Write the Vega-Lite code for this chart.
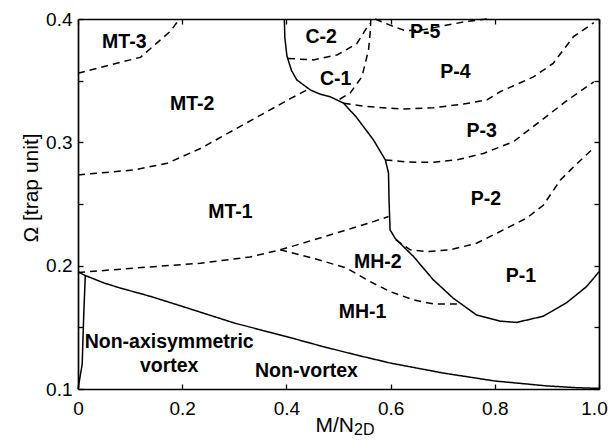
{
  "$schema": "https://vega.github.io/schema/vega-lite/v6.json",
  "width": 521,
  "height": 370,
  "autosize": "none",
  "padding": {"left": 78, "top": 19, "right": 11, "bottom": 51},
  "background": "white",
  "config": {
    "view": {"stroke": null},
    "axis": {
      "domainColor": "black", "domainWidth": 1.7,
      "tickColor": "black", "tickWidth": 1.3, "tickSize": -5,
      "labelColor": "black", "labelFont": "Liberation Sans", "labelFontSize": 19,
      "labelFlush": false, "labelOverlap": false, "grid": false,
      "titleColor": "black", "titleFont": "Liberation Sans", "titleFontWeight": "normal"
    }
  },
  "datasets": {
    "lines": [
      {"id":"S1","s":"solid","i":0,"x":0,"y":0.195},
      {"id":"S1","s":"solid","i":1,"x":0.014,"y":0.192},
      {"id":"S1","s":"solid","i":2,"x":0.05,"y":0.186},
      {"id":"S1","s":"solid","i":3,"x":0.08,"y":0.182},
      {"id":"S1","s":"solid","i":4,"x":0.14,"y":0.175},
      {"id":"S1","s":"solid","i":5,"x":0.2,"y":0.167},
      {"id":"S1","s":"solid","i":6,"x":0.3,"y":0.1535},
      {"id":"S1","s":"solid","i":7,"x":0.4,"y":0.1425},
      {"id":"S1","s":"solid","i":8,"x":0.465,"y":0.135},
      {"id":"S1","s":"solid","i":9,"x":0.53,"y":0.128},
      {"id":"S1","s":"solid","i":10,"x":0.6,"y":0.121},
      {"id":"S1","s":"solid","i":11,"x":0.7,"y":0.113},
      {"id":"S1","s":"solid","i":12,"x":0.8,"y":0.1065},
      {"id":"S1","s":"solid","i":13,"x":0.9,"y":0.1025},
      {"id":"S1","s":"solid","i":14,"x":0.96,"y":0.101},
      {"id":"S1","s":"solid","i":15,"x":1.0,"y":0.1005},
      {"id":"S2","s":"solid","i":0,"x":0,"y":0.1},
      {"id":"S2","s":"solid","i":1,"x":0.008,"y":0.12},
      {"id":"S2","s":"solid","i":2,"x":0.011,"y":0.16},
      {"id":"S2","s":"solid","i":3,"x":0.014,"y":0.192},
      {"id":"S3","s":"solid","i":0,"x":0.396,"y":0.4},
      {"id":"S3","s":"solid","i":1,"x":0.397,"y":0.385},
      {"id":"S3","s":"solid","i":2,"x":0.401,"y":0.37},
      {"id":"S3","s":"solid","i":3,"x":0.41,"y":0.358},
      {"id":"S3","s":"solid","i":4,"x":0.42,"y":0.3506},
      {"id":"S3","s":"solid","i":5,"x":0.446,"y":0.3425},
      {"id":"S3","s":"solid","i":6,"x":0.465,"y":0.339},
      {"id":"S3","s":"solid","i":7,"x":0.484,"y":0.337},
      {"id":"S3","s":"solid","i":8,"x":0.51,"y":0.3317},
      {"id":"S3","s":"solid","i":9,"x":0.535,"y":0.32},
      {"id":"S3","s":"solid","i":10,"x":0.567,"y":0.302},
      {"id":"S3","s":"solid","i":11,"x":0.59,"y":0.2857},
      {"id":"S3","s":"solid","i":12,"x":0.596,"y":0.275},
      {"id":"S3","s":"solid","i":13,"x":0.597,"y":0.253},
      {"id":"S3","s":"solid","i":14,"x":0.599,"y":0.229},
      {"id":"S3","s":"solid","i":15,"x":0.609,"y":0.222},
      {"id":"S3","s":"solid","i":16,"x":0.644,"y":0.2074},
      {"id":"S3","s":"solid","i":17,"x":0.682,"y":0.1885},
      {"id":"S3","s":"solid","i":18,"x":0.72,"y":0.1737},
      {"id":"S3","s":"solid","i":19,"x":0.765,"y":0.16},
      {"id":"S3","s":"solid","i":20,"x":0.81,"y":0.155},
      {"id":"S3","s":"solid","i":21,"x":0.842,"y":0.154},
      {"id":"S3","s":"solid","i":22,"x":0.893,"y":0.159},
      {"id":"S3","s":"solid","i":23,"x":0.938,"y":0.17},
      {"id":"S3","s":"solid","i":24,"x":0.976,"y":0.183},
      {"id":"S3","s":"solid","i":25,"x":1.0,"y":0.195},
      {"id":"D1","s":"dashed","i":0,"x":0,"y":0.356},
      {"id":"D1","s":"dashed","i":1,"x":0.06,"y":0.3625},
      {"id":"D1","s":"dashed","i":2,"x":0.12,"y":0.369},
      {"id":"D1","s":"dashed","i":3,"x":0.15,"y":0.38},
      {"id":"D1","s":"dashed","i":4,"x":0.177,"y":0.39},
      {"id":"D1","s":"dashed","i":5,"x":0.195,"y":0.4},
      {"id":"D2","s":"dashed","i":0,"x":0,"y":0.2736},
      {"id":"D2","s":"dashed","i":1,"x":0.107,"y":0.2776},
      {"id":"D2","s":"dashed","i":2,"x":0.171,"y":0.283},
      {"id":"D2","s":"dashed","i":3,"x":0.235,"y":0.295},
      {"id":"D2","s":"dashed","i":4,"x":0.299,"y":0.31},
      {"id":"D2","s":"dashed","i":5,"x":0.363,"y":0.325},
      {"id":"D2","s":"dashed","i":6,"x":0.41,"y":0.336},
      {"id":"D2","s":"dashed","i":7,"x":0.442,"y":0.343},
      {"id":"D3","s":"dashed","i":0,"x":0.403,"y":0.368},
      {"id":"D3","s":"dashed","i":1,"x":0.452,"y":0.3668},
      {"id":"D3","s":"dashed","i":2,"x":0.497,"y":0.3708},
      {"id":"D3","s":"dashed","i":3,"x":0.535,"y":0.38},
      {"id":"D3","s":"dashed","i":4,"x":0.5595,"y":0.3965},
      {"id":"D4","s":"dashed","i":0,"x":0.562,"y":0.4},
      {"id":"D4","s":"dashed","i":1,"x":0.561,"y":0.39},
      {"id":"D4","s":"dashed","i":2,"x":0.5577,"y":0.375},
      {"id":"D4","s":"dashed","i":3,"x":0.545,"y":0.3532},
      {"id":"D4","s":"dashed","i":4,"x":0.5225,"y":0.34},
      {"id":"D4","s":"dashed","i":5,"x":0.5,"y":0.3344},
      {"id":"D5","s":"dashed","i":0,"x":0.51,"y":0.3317},
      {"id":"D5","s":"dashed","i":1,"x":0.555,"y":0.329},
      {"id":"D5","s":"dashed","i":2,"x":0.62,"y":0.327},
      {"id":"D5","s":"dashed","i":3,"x":0.682,"y":0.328},
      {"id":"D5","s":"dashed","i":4,"x":0.74,"y":0.331},
      {"id":"D5","s":"dashed","i":5,"x":0.785,"y":0.3344},
      {"id":"D5","s":"dashed","i":6,"x":0.81,"y":0.341},
      {"id":"D5","s":"dashed","i":7,"x":0.874,"y":0.353},
      {"id":"D5","s":"dashed","i":8,"x":0.912,"y":0.364},
      {"id":"D5","s":"dashed","i":9,"x":0.951,"y":0.3857},
      {"id":"D5","s":"dashed","i":10,"x":0.99,"y":0.397},
      {"id":"D6","s":"dashed","i":0,"x":0.5705,"y":0.4},
      {"id":"D6","s":"dashed","i":1,"x":0.599,"y":0.395},
      {"id":"D6","s":"dashed","i":2,"x":0.628,"y":0.3905},
      {"id":"D6","s":"dashed","i":3,"x":0.66,"y":0.391},
      {"id":"D6","s":"dashed","i":4,"x":0.695,"y":0.394},
      {"id":"D6","s":"dashed","i":5,"x":0.746,"y":0.398},
      {"id":"D6","s":"dashed","i":6,"x":0.785,"y":0.4},
      {"id":"D7","s":"dashed","i":0,"x":0.59,"y":0.2857},
      {"id":"D7","s":"dashed","i":1,"x":0.635,"y":0.284},
      {"id":"D7","s":"dashed","i":2,"x":0.682,"y":0.2838},
      {"id":"D7","s":"dashed","i":3,"x":0.73,"y":0.286},
      {"id":"D7","s":"dashed","i":4,"x":0.778,"y":0.291},
      {"id":"D7","s":"dashed","i":5,"x":0.836,"y":0.3006},
      {"id":"D7","s":"dashed","i":6,"x":0.89,"y":0.318},
      {"id":"D7","s":"dashed","i":7,"x":0.94,"y":0.3344},
      {"id":"D7","s":"dashed","i":8,"x":0.99,"y":0.349},
      {"id":"D8","s":"dashed","i":0,"x":0.61,"y":0.221},
      {"id":"D8","s":"dashed","i":1,"x":0.6376,"y":0.2128},
      {"id":"D8","s":"dashed","i":2,"x":0.67,"y":0.2114},
      {"id":"D8","s":"dashed","i":3,"x":0.714,"y":0.2128},
      {"id":"D8","s":"dashed","i":4,"x":0.765,"y":0.2182},
      {"id":"D8","s":"dashed","i":5,"x":0.8165,"y":0.229},
      {"id":"D8","s":"dashed","i":6,"x":0.861,"y":0.2385},
      {"id":"D8","s":"dashed","i":7,"x":0.893,"y":0.249},
      {"id":"D8","s":"dashed","i":8,"x":0.926,"y":0.2695},
      {"id":"D8","s":"dashed","i":9,"x":0.951,"y":0.28},
      {"id":"D8","s":"dashed","i":10,"x":0.986,"y":0.294},
      {"id":"D9","s":"dashed","i":0,"x":0,"y":0.1944},
      {"id":"D9","s":"dashed","i":1,"x":0.107,"y":0.198},
      {"id":"D9","s":"dashed","i":2,"x":0.235,"y":0.202},
      {"id":"D9","s":"dashed","i":3,"x":0.33,"y":0.207},
      {"id":"D9","s":"dashed","i":4,"x":0.388,"y":0.2128},
      {"id":"D9","s":"dashed","i":5,"x":0.452,"y":0.2209},
      {"id":"D9","s":"dashed","i":6,"x":0.516,"y":0.229},
      {"id":"D9","s":"dashed","i":7,"x":0.567,"y":0.2357},
      {"id":"D9","s":"dashed","i":8,"x":0.596,"y":0.2398},
      {"id":"D10","s":"dashed","i":0,"x":0.388,"y":0.2128},
      {"id":"D10","s":"dashed","i":1,"x":0.452,"y":0.206},
      {"id":"D10","s":"dashed","i":2,"x":0.516,"y":0.198},
      {"id":"D10","s":"dashed","i":3,"x":0.561,"y":0.187},
      {"id":"D10","s":"dashed","i":4,"x":0.599,"y":0.179},
      {"id":"D10","s":"dashed","i":5,"x":0.644,"y":0.1723},
      {"id":"D10","s":"dashed","i":6,"x":0.682,"y":0.169},
      {"id":"D10","s":"dashed","i":7,"x":0.732,"y":0.169}
    ],
    "labels": [
      {"t":"MT-3","x":0.0889,"y":0.3762},
      {"t":"MT-2","x":0.219,"y":0.3262},
      {"t":"MT-1","x":0.2924,"y":0.2384},
      {"t":"C-2","x":0.4667,"y":0.3803},
      {"t":"C-1","x":0.4944,"y":0.3465},
      {"t":"P-5","x":0.6663,"y":0.3844},
      {"t":"P-4","x":0.7245,"y":0.3519},
      {"t":"P-3","x":0.775,"y":0.3041},
      {"t":"P-2","x":0.7828,"y":0.2492},
      {"t":"P-1","x":0.85,"y":0.187},
      {"t":"MH-2","x":0.5753,"y":0.1979},
      {"t":"MH-1","x":0.546,"y":0.1573},
      {"t":"Non-axisymmetric","x":0.175,"y":0.1335},
      {"t":"vortex","x":0.175,"y":0.114},
      {"t":"Non-vortex","x":0.4385,"y":0.11}
    ],
    "sub": [
      {"t":"2D","x":0.5298,"y":0.0631}
    ]
  },
  "layer": [
    {
      "data": {"name": "lines"},
      "mark": {"type": "line", "color": "black", "strokeWidth": 1.5},
      "encoding": {
        "x": {"field": "x", "type": "quantitative",
              "scale": {"domain": [0, 1], "nice": false, "zero": false},
              "axis": {"orient": "bottom", "values": [0, 0.2, 0.4, 0.6, 0.8, 1.0],
                       "labelExpr": "datum.value == 0 ? '0' : format(datum.value, '.1f')",
                       "labelPadding": 15,
                       "labelOffset": {"expr": "datum.value == 1 ? -5 : 0"},
                       "title": "M/N", "titleFontSize": 21, "titleAlign": "left",
                       "titleBaseline": "alphabetic", "titleX": 237, "titleY": 42.7}},
        "y": {"field": "y", "type": "quantitative",
              "scale": {"domain": [0.1, 0.4], "nice": false, "zero": false},
              "axis": {"orient": "left", "values": [0.1, 0.15, 0.2, 0.25, 0.3, 0.35, 0.4],
                       "labelExpr": "(round(datum.value*100) % 10 == 0) ? format(datum.value, '.1f') : ''",
                       "labelPadding": 11, "labelBaseline": "middle",
                       "title": "Ω [trap unit]", "titleFontSize": 21, "titleAngle": -90,
                       "titleAlign": "left", "titleBaseline": "alphabetic",
                       "titleX": -41, "titleY": 223}},
        "detail": {"field": "id", "type": "nominal"},
        "order": {"field": "i", "type": "quantitative"},
        "strokeDash": {"field": "s", "type": "nominal",
                       "scale": {"domain": ["solid", "dashed"], "range": [[1, 0], [7, 5]]},
                       "legend": null}
      }
    },
    {
      "data": {"name": "labels"},
      "mark": {"type": "text", "font": "Liberation Sans", "fontWeight": "bold", "fontSize": 19.5,
               "align": "center", "baseline": "alphabetic", "color": "black"},
      "encoding": {
        "x": {"field": "x", "type": "quantitative",
              "axis": {"orient": "top", "values": [0, 0.2, 0.4, 0.6, 0.8, 1.0], "labels": false, "title": null}},
        "y": {"field": "y", "type": "quantitative",
              "axis": {"orient": "right", "values": [0.1, 0.15, 0.2, 0.25, 0.3, 0.35, 0.4], "labels": false, "title": null}},
        "text": {"field": "t", "type": "nominal"}
      }
    },
    {
      "data": {"name": "sub"},
      "mark": {"type": "text", "font": "Liberation Sans", "fontSize": 16,
               "align": "left", "baseline": "alphabetic", "color": "black"},
      "encoding": {
        "x": {"field": "x", "type": "quantitative", "axis": null},
        "y": {"field": "y", "type": "quantitative", "axis": null},
        "text": {"field": "t", "type": "nominal"}
      }
    }
  ],
  "resolve": {"axis": {"x": "independent", "y": "independent"}}
}
